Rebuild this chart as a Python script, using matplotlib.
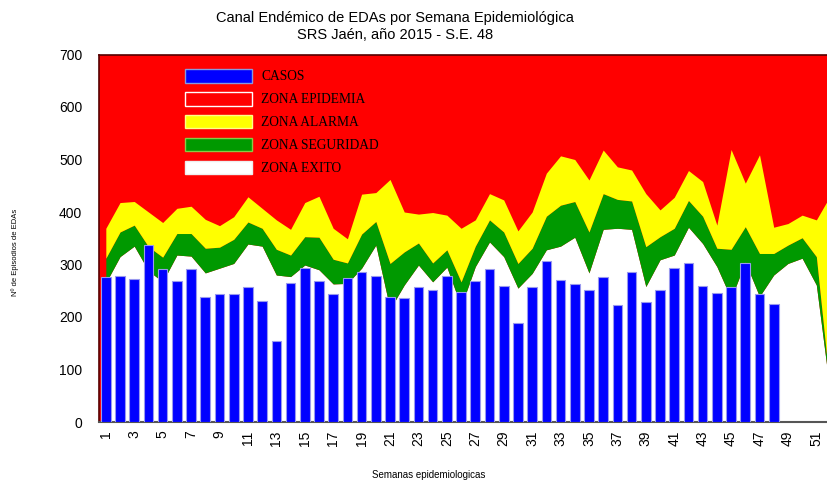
import numpy as np
import matplotlib
matplotlib.use("Agg")
import matplotlib.pyplot as plt
from matplotlib.patches import Patch

# semanas epidemiologicas
weeks = list(range(1, 53))
tick_weeks = list(range(1, 52, 2))

# casos notificados (S.E. 1 - 48)
casos = [276, 278, 273, 337, 292, 269, 291, 239, 244, 244,
         257, 231, 154, 265, 294, 268, 244, 275, 285, 278,
         239, 237, 257, 251, 278, 247, 269, 291, 260, 189,
         257, 306, 270, 262, 252, 276, 223, 286, 229, 252,
         294, 302, 259, 245, 257, 302, 244, 224]

# limites del canal endemico
lim_exito = [265, 315, 335, 288, 267, 318, 316, 284, 293, 302,
             339, 335, 280, 277, 299, 290, 263, 264, 293, 337,
             215, 261, 299, 267, 295, 220, 296, 343, 315, 255,
             283, 328, 335, 352, 284, 367, 369, 367, 258, 309,
             318, 371, 340, 296, 235, 305, 239, 280, 302, 312,
             261, 50]
lim_seguridad = [312, 362, 375, 334, 314, 359, 359, 331, 333, 348,
                 381, 369, 329, 318, 353, 352, 310, 303, 358, 382,
                 302, 324, 341, 303, 328, 267, 335, 385, 362, 302,
                 331, 392, 413, 420, 362, 435, 424, 421, 334, 353,
                 369, 422, 392, 331, 329, 372, 321, 321, 337, 351,
                 315, 55]
lim_alarma = [369, 418, 420, 400, 380, 407, 411, 386, 374, 391,
              429, 407, 385, 367, 418, 430, 369, 349, 434, 437,
              462, 400, 396, 399, 394, 369, 385, 435, 423, 364,
              400, 474, 507, 500, 461, 518, 486, 480, 435, 404,
              428, 479, 458, 375, 519, 455, 509, 371, 378, 394,
              385, 432]

plt.rcParams["font.family"] = ["Liberation Sans", "DejaVu Sans"]

fig = plt.figure(figsize=(8.28, 4.82), dpi=100)
ax = fig.add_axes([99 / 828, 1 - 422 / 482, 1 - 99 / 828, (422 - 54.5) / 482])

ax.set_facecolor("#ff0000")
ax.fill_between(weeks, 0, lim_exito, color="white", lw=0, zorder=1)
ax.fill_between(weeks, lim_exito, lim_seguridad, color="#009900", lw=0, zorder=1)
ax.fill_between(weeks, lim_seguridad, lim_alarma, color="#ffff00", lw=0, zorder=1)

ax.bar(weeks[:len(casos)], casos, width=0.68, color="#0000ff",
       edgecolor="#9999ee", linewidth=0.8, zorder=3)

ax.set_xlim(0.52, 51.82)
ax.set_ylim(0, 700)
ax.set_yticks(range(0, 701, 100))
ax.set_xticks(tick_weeks)
ax.set_xticklabels([str(w) for w in tick_weeks], rotation=90, fontsize=10)
ax.tick_params(axis="y", length=0, pad=12, labelsize=10)
ax.tick_params(axis="x", length=0, pad=6)

for side in ["top", "left"]:
    ax.spines[side].set_color("#550000")
    ax.spines[side].set_linewidth(1.2)
ax.spines["bottom"].set_color("#555555")
ax.spines["bottom"].set_linewidth(1.5)
ax.spines["right"].set_visible(False)

handles = [
    Patch(facecolor="#0000ff", edgecolor="#8899dd", label="CASOS"),
    Patch(facecolor="#ff0000", edgecolor="white", label="ZONA EPIDEMIA"),
    Patch(facecolor="#ffff00", edgecolor="#ffff88", label="ZONA ALARMA"),
    Patch(facecolor="#009900", edgecolor="#88cc44", label="ZONA SEGURIDAD"),
    Patch(facecolor="white", edgecolor="#eeeeee", label="ZONA EXITO"),
]
ax.legend(handles=handles, loc="upper left", bbox_to_anchor=(0.11, 0.975),
          frameon=False, prop={"family": "Liberation Serif", "size": 9.75},
          handlelength=5.0, handleheight=1.15, labelspacing=0.64,
          handletextpad=0.65, borderaxespad=0)

fig.text(395 / 828, 1 - 18 / 482, "Canal Endémico de EDAs por Semana Epidemiológica",
         ha="center", va="center", fontsize=10.5)
fig.text(395 / 828, 1 - 35 / 482, "SRS Jaén, año 2015 - S.E. 48",
         ha="center", va="center", fontsize=10.5)
fig.text(15 / 828, 1 - 252 / 482, "Nº de Episodios de EDAs", rotation=90,
         ha="center", va="center", fontsize=5.5)
fig.text(429 / 828, 1 - 475 / 482, "Semanas epidemiologicas",
         ha="center", va="center", fontsize=7)

fig.savefig("out.png", dpi=100)
